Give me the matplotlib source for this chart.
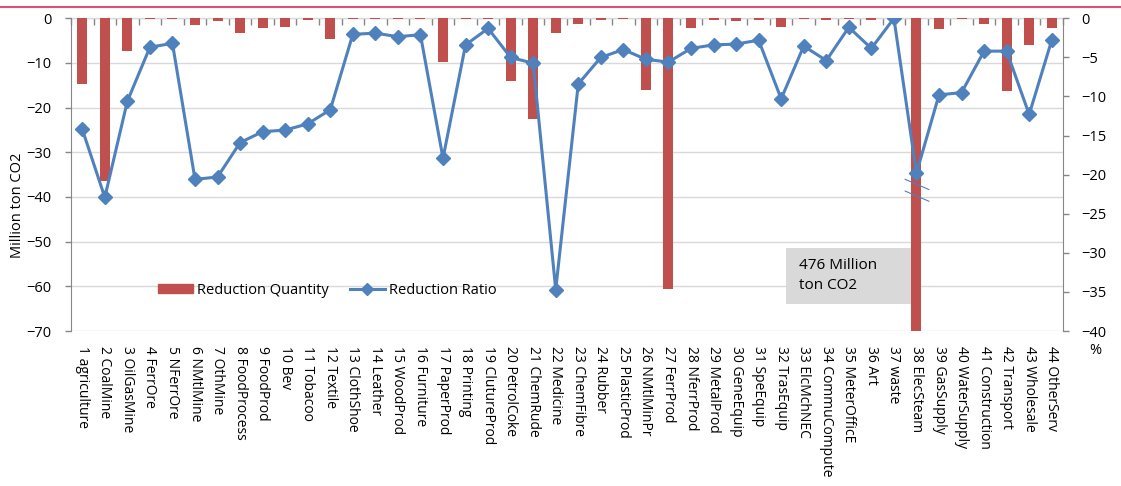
import matplotlib
matplotlib.use("Agg")
import matplotlib.pyplot as plt
from matplotlib.patches import Rectangle
from matplotlib.lines import Line2D
import numpy as np

plt.rcParams['font.family'] = ['Open Sans', 'DejaVu Sans']

categories = ["1 agriculture", "2 CoalMine", "3 OilGasMine", "4 FerrOre", "5 NFerrOre",
              "6 NMtlMine", "7 OthMine", "8 FoodProcess", "9 FoodProd", "10 Bev",
              "11 Tobacoo", "12 Textile", "13 ClothShoe", "14 Leather", "15 WoodProd",
              "16 Furniture", "17 PaperProd", "18 Printing", "19 ClutureProd", "20 PetrolCoke",
              "21 ChemRude", "22 Medicine", "23 ChemFibre", "24 Rubber", "25 PlasticProd",
              "26 NMtlMinPr", "27 FerrProd", "28 NferrProd", "29 MetalProd", "30 GeneEquip",
              "31 SpeEquip", "32 TrasEquip", "33 ElcMchNEC", "34 CommuCompute", "35 MeterOfficE",
              "36 Art", "37 waste", "38 ElecSteam", "39 GasSupply", "40 WaterSupply",
              "41 Construction", "42 Transport", "43 Wholesale", "44 OtherServ"]

reduction_quantity = [-14.7, -36.5, -7.3, -0.05, -0.05, -1.6, -0.6, -3.2, -2.1, -1.9,
                      -0.4, -4.6, -0.05, -0.05, -0.05, -0.05, -9.7, -0.05, -0.05, -14.0,
                      -22.5, -3.4, -1.2, -0.3, -0.05, -16.0, -60.7, -2.1, -0.3, -0.5,
                      -0.3, -1.9, -0.05, -0.3, -0.05, -0.3, 0.0, -476.0, -2.5, -0.05,
                      -1.3, -16.3, -6.0, -2.2]

reduction_ratio = [-14.2, -22.9, -10.6, -3.7, -3.2, -20.6, -20.3, -15.9, -14.5, -14.3,
                   -13.5, -11.7, -2.05, -1.9, -2.35, -2.1, -17.9, -3.4, -1.3, -5.0,
                   -5.75, -34.7, -8.4, -5.0, -4.0, -5.25, -5.6, -3.85, -3.4, -3.3,
                   -2.8, -10.3, -3.55, -5.4, -1.15, -3.85, 0.0, -19.8, -9.8, -9.5,
                   -4.2, -4.2, -12.3, -2.8]

left_ticks = [0, -10, -20, -30, -40, -50, -60, -70]
right_ticks = [0, -5, -10, -15, -20, -25, -30, -35, -40]

BAR = '#c0504d'
LINE = '#4f81bd'
GRID = '#d9d9d9'
AXC = '#868686'

W, H = 1121, 486
fig = plt.figure(figsize=(W / 100, H / 100), dpi=100)
ax_l, ax_r, ax_t, ax_b = 71, 1063, 18.3, 331
ax = fig.add_axes([ax_l / W, 1 - ax_b / H, (ax_r - ax_l) / W, (ax_b - ax_t) / H])

x = np.arange(1, len(categories) + 1)
ax.bar(x, reduction_quantity, width=0.44, color=BAR, zorder=2)
ax.set_ylim(-70, 0)
ax.set_xlim(0.5, len(categories) + 0.5)
ax.set_yticks(left_ticks)
ax.set_axisbelow(True)
ax.yaxis.grid(True, color=GRID, linewidth=1.0)
ax.set_xticks(x)
ax.set_xticklabels(categories, rotation=-90, ha='center', va='top', fontsize=10)
ax.tick_params(axis='x', length=0, pad=11)
ax.tick_params(axis='y', length=4, width=1, color=AXC, pad=10, labelsize=10.5)
for s in ['top', 'right', 'bottom']:
    ax.spines[s].set_visible(False)
ax.spines['left'].set_color(AXC)

# top category axis with boundary ticks
secx = ax.secondary_xaxis('top')
secx.set_xticks(np.arange(0.5, len(categories) + 1, 1.0))
secx.set_xticklabels([])
secx.tick_params(axis='x', direction='in', length=5, color=AXC, width=1)
secx.spines['top'].set_color(AXC)

ax2 = ax.twinx()
ax2.plot(x, reduction_ratio, color=LINE, linewidth=2.2, marker='D', markersize=7,
         markerfacecolor=LINE, markeredgecolor=LINE, zorder=3)
ax2.set_ylim(-40, 0)
ax2.set_yticks(right_ticks)
ax2.tick_params(axis='y', length=4, width=1, color=AXC, pad=9, labelsize=10.5)
for s in ['top', 'left', 'bottom']:
    ax2.spines[s].set_visible(False)
ax2.spines['right'].set_color(AXC)

# break marks on ElecSteam bar
i38 = categories.index("38 ElecSteam") + 1
for dy in [0.0, -1.5]:
    ax2.plot([i38 - 0.5, i38 + 0.55], [-20.6 + dy, -21.9 + dy], color=LINE, linewidth=0.8,
             zorder=4, clip_on=False)

# annotation box
ax.add_patch(Rectangle((32.2, -63.9), 5.55, 12.5, facecolor='#d9d9d9', edgecolor='none', zorder=1.5))
ax.text(32.8, -57.5, "476 Million\nton CO2", fontsize=11, va='center', ha='left',
        linespacing=1.45, zorder=5)

# labels
fig.text(18 / W, 1 - 205 / H, "Million ton CO2", rotation=90, va='center', ha='center', fontsize=10.5)
fig.text(1095 / W, 1 - 350 / H, "%", va='center', ha='center', fontsize=10.5)

# top decorative line
fig.add_artist(Line2D([0, 1], [1 - 7 / H, 1 - 7 / H], color='#e0507a', linewidth=1.5,
                      transform=fig.transFigure))

handles = [Rectangle((0, 0), 1, 1, color=BAR),
           Line2D([], [], color=LINE, linewidth=2.2, marker='D', markersize=6)]
fig.legend(handles, ["Reduction Quantity", "Reduction Ratio"], loc='center left',
           bbox_to_anchor=(158 / W, 1 - 290 / H), ncol=2, frameon=False, fontsize=10.5,
           handlelength=2.4, handletextpad=0.3, columnspacing=1.4, borderpad=0,
           borderaxespad=0, handleheight=0.6)

fig.savefig("out.png", dpi=100)
